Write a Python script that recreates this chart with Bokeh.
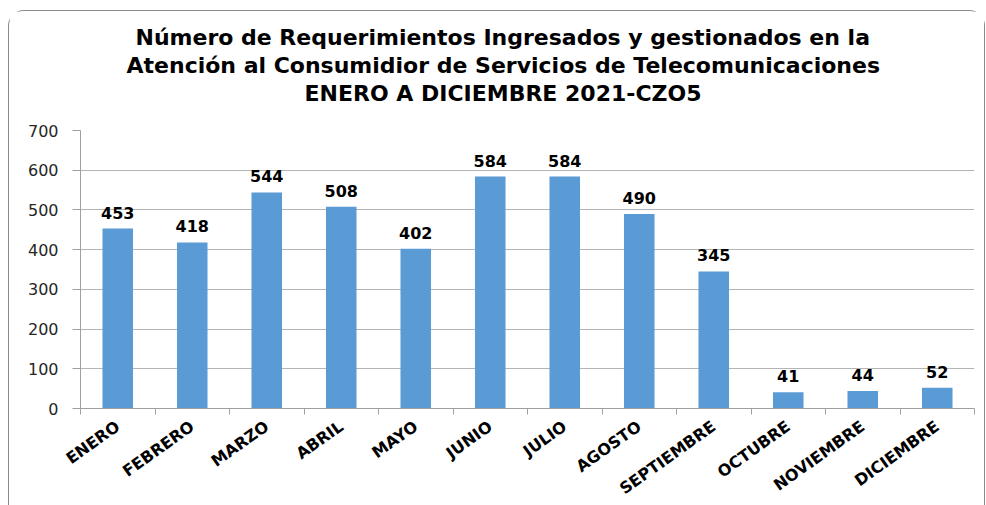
import numpy as np
from bokeh.plotting import figure
from bokeh.models import Range1d, FixedTicker, Title, ColumnDataSource
from bokeh.embed import file_html
from bokeh.resources import INLINE
from bokeh.core.properties import value

months = ["ENERO", "FEBRERO", "MARZO", "ABRIL", "MAYO", "JUNIO", "JULIO",
          "AGOSTO", "SEPTIEMBRE", "OCTUBRE", "NOVIEMBRE", "DICIEMBRE"]
counts = [453, 418, 544, 508, 402, 584, 584, 490, 345, 41, 44, 52]
y_ticks = [0, 100, 200, 300, 400, 500, 600, 700]
title_lines = [
    "Número de Requerimientos Ingresados y gestionados en la",
    "Atención al Consumidior de Servicios de Telecomunicaciones",
    "ENERO A DICIEMBRE 2021-CZO5",
]
# left offsets (px from the plot frame) so each line is centred on the chart box
title_offsets = [55, 46, 224]
title_pad_bottom = [1, 1, 25]

FONT = "DejaVu Sans"
n = len(months)
xc = np.arange(n) + 0.5
src = ColumnDataSource(dict(x=xc, y=counts, label=[str(c) for c in counts]))

p = figure(frame_width=894, frame_height=278,
           min_border_left=71, min_border_right=10,
           min_border_top=119, min_border_bottom=80,
           x_range=Range1d(0, n), y_range=Range1d(0, y_ticks[-1]),
           output_backend="svg", toolbar_location=None, title=None)
p.styles = {"margin-left": "8px", "margin-top": "10px",
            "border-top": "1px solid #8a8a8a",
            "border-left": "1px solid #8a8a8a",
            "border-right": "1px solid #8a8a8a",
            "border-radius": "16px 16px 0 0"}

for line, off, pb in reversed(list(zip(title_lines, title_offsets, title_pad_bottom))):
    p.add_layout(Title(text=line, align="left", offset=off, standoff=0,
                       padding=dict(left=0, right=0, top=0, bottom=pb),
                       text_font=FONT, text_font_size="22px",
                       text_font_style="bold", text_color="#000000"), "above")

p.vbar(x="x", top="y", width=0.41, source=src,
       fill_color="#5B9BD5", line_color=None)
p.text(x="x", y="y", text="label", source=src,
       text_align="center", text_baseline="bottom", y_offset=-10,
       text_font=value(FONT), text_font_size="16px",
       text_font_style="bold", text_color="#000000")

p.outline_line_color = None
p.xgrid.grid_line_color = None
p.ygrid.ticker = FixedTicker(ticks=y_ticks)
p.ygrid.grid_line_color = "#b4b4b4"

xa = p.xaxis[0]
xa.ticker = FixedTicker(ticks=list(xc), minor_ticks=list(range(n + 1)))
xa.major_label_overrides = {float(x): m for x, m in zip(xc, months)}
xa.major_tick_out = 0
xa.major_tick_in = 0
xa.minor_tick_out = 6
xa.minor_tick_in = 0
xa.minor_tick_line_color = "#a0a0a0"
xa.axis_line_color = "#a0a0a0"
xa.major_label_orientation = 0.62
xa.major_label_standoff = 10
xa.major_label_text_font = FONT
xa.major_label_text_font_size = "16px"
xa.major_label_text_font_style = "bold"
xa.major_label_text_color = "#000000"

ya = p.yaxis[0]
ya.ticker = FixedTicker(ticks=y_ticks)
ya.axis_line_color = "#a0a0a0"
ya.major_tick_line_color = "#a0a0a0"
ya.major_tick_out = 8
ya.major_tick_in = 0
ya.minor_tick_out = 0
ya.minor_tick_in = 0
ya.major_label_standoff = 14
ya.major_label_text_font = FONT
ya.major_label_text_font_size = "16px"
ya.major_label_text_color = "#262626"

open("out.html", "w").write(file_html(p, INLINE))
